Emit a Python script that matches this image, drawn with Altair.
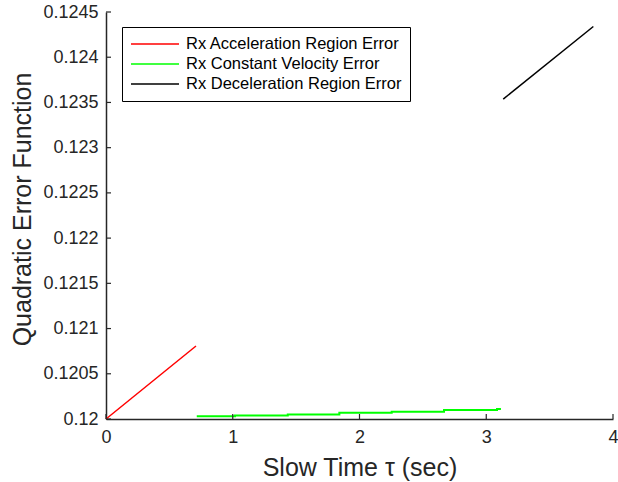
import altair as alt
import pandas as pd

# Quadratic error of the Rx fit in each motion region versus slow time
accel_t = [0.0, 0.71]
accel_err = [0.12000, 0.120807]

const_t = [0.716, 1.018, 1.434, 1.841, 2.254, 2.667, 3.085, 3.116]
const_err = [0.12003, 0.12004, 0.12005, 0.12007, 0.12008, 0.12010, 0.12011, 0.12011]

decel_t = [3.134, 3.845]
decel_err = [0.123537, 0.12434]

series_names = [
    "Rx Acceleration Region Error",
    "Rx Constant Velocity Error",
    "Rx Deceleration Region Error",
]
series_colors = ["#ff0000", "#00ff00", "#000000"]

x_ticks = [0, 1, 2, 3, 4]
y_ticks = [0.12, 0.1205, 0.121, 0.1215, 0.122, 0.1225, 0.123, 0.1235, 0.124, 0.1245]

frames = []
for name, ts, es in zip(series_names, [accel_t, const_t, decel_t], [accel_err, const_err, decel_err]):
    frames.append(pd.DataFrame({"t": ts, "err": es, "series": name, "order": range(len(ts))}))
df = pd.concat(frames, ignore_index=True)

W, H = 507, 407
FONT = "Liberation Sans"
AX = "#262626"

x_scale = alt.Scale(domain=[0, 4], nice=False, zero=False)
y_scale = alt.Scale(domain=[0.12, 0.1245], nice=False, zero=False)

x_enc = alt.X("t:Q", scale=x_scale,
              axis=alt.Axis(values=x_ticks, format="d", title="Slow Time τ (sec)",
                            ticks=False, tickSize=0, labelPadding=9, grid=False,
                            labelFlush=False,
                            titleY=56, titleBaseline="alphabetic"))
y_enc = alt.Y("err:Q", scale=y_scale,
              axis=alt.Axis(values=y_ticks, format="~g", title="Quadratic Error Function",
                            ticks=False, tickSize=0, labelPadding=8, grid=False,
                            labelFlush=False,
                            titleX=-84, titleY=197, titleAlign="center",
                            titleBaseline="middle"))
color_enc = alt.Color("series:N",
                      scale=alt.Scale(domain=series_names, range=series_colors),
                      legend=alt.Legend(title=None, orient="none", legendX=16, legendY=15,
                                        symbolType="M-3,0H3", symbolSize=256,
                                        symbolStrokeWidth=1.5, symbolOffset=16,
                                        labelOffset=22, labelLimit=0,
                                        strokeColor="#000000", fillColor="#ffffff",
                                        padding=8, rowPadding=2))

base = alt.Chart(df).encode(x=x_enc, y=y_enc, color=color_enc, order="order:Q")

ramps = base.transform_filter(
    alt.datum.series != series_names[1]
).mark_line(strokeWidth=1.5)

cruise = base.transform_filter(
    alt.datum.series == series_names[1]
).mark_line(strokeWidth=2, interpolate="step-after")

# inward-pointing tick marks
xt = alt.Chart(pd.DataFrame({"v": x_ticks})).mark_rule(color=AX, strokeWidth=1.2).encode(
    x=alt.X("v:Q", scale=x_scale), y=alt.value(H), y2=alt.value(H - 5))
yt = alt.Chart(pd.DataFrame({"v": y_ticks})).mark_rule(color=AX, strokeWidth=1.2).encode(
    y=alt.Y("v:Q", scale=y_scale), x=alt.value(0), x2=alt.value(5))

chart = alt.layer(ramps, cruise, xt, yt).properties(
    width=W, height=H,
    background="white",
    autosize=alt.AutoSizeParams(type="none"),
    padding={"left": 106, "top": 12, "right": 5, "bottom": 63},
).configure_view(stroke=None).configure_axis(
    domainColor=AX, domainWidth=1.5,
    labelFont=FONT, labelFontSize=18, labelColor=AX,
    titleFont=FONT, titleFontSize=25, titleColor=AX, titleFontWeight="normal",
).configure_legend(
    labelFont=FONT, labelFontSize=16.5, labelColor="#000000",
)

chart.save("out.html", embed_options={"renderer": "svg", "actions": False})
